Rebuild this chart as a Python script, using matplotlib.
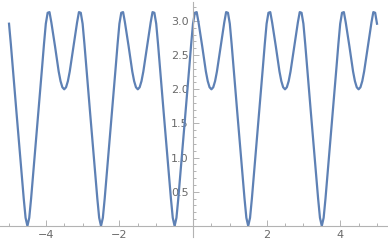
import numpy as np
import matplotlib.pyplot as plt

# x sampled every 0.05 from -5 to 5
x = np.linspace(-5, 5, 201)

# y values (one list per segment)
y_start = [2.96, 2.66, 2.33, 2.00, 1.68, 1.36, 1.04, 0.72, 0.40, 0.12, 0.00]
y_seg1 = [0.12, 0.40, 0.72, 1.04, 1.36, 1.68, 2.00, 2.33, 2.66, 2.96,
          3.12, 3.13, 2.98, 2.81, 2.63, 2.44, 2.26, 2.12, 2.03, 2.00]
y_seg2 = [2.03, 2.12, 2.26, 2.44, 2.63, 2.81, 2.98, 3.13, 3.12, 2.96,
          2.66, 2.33, 2.00, 1.68, 1.36, 1.04, 0.72, 0.40, 0.12, 0.00]
y_seg3 = [0.12, 0.40, 0.72, 1.04, 1.36, 1.68, 2.00, 2.33, 2.66, 2.96,
          3.12, 3.13, 2.98, 2.81, 2.63, 2.44, 2.26, 2.12, 2.03, 2.00]
y_seg4 = [2.03, 2.12, 2.26, 2.44, 2.63, 2.81, 2.98, 3.13, 3.12, 2.96,
          2.66, 2.33, 2.00, 1.68, 1.36, 1.04, 0.72, 0.40, 0.12, 0.00]
y_seg5 = [0.12, 0.40, 0.72, 1.04, 1.36, 1.68, 2.00, 2.33, 2.66, 2.96,
          3.12, 3.13, 2.98, 2.81, 2.63, 2.44, 2.26, 2.12, 2.03, 2.00]
y_seg6 = [2.03, 2.12, 2.26, 2.44, 2.63, 2.81, 2.98, 3.13, 3.12, 2.96,
          2.66, 2.33, 2.00, 1.68, 1.36, 1.04, 0.72, 0.40, 0.12, 0.00]
y_seg7 = [0.12, 0.40, 0.72, 1.04, 1.36, 1.68, 2.00, 2.33, 2.66, 2.96,
          3.12, 3.13, 2.98, 2.81, 2.63, 2.44, 2.26, 2.12, 2.03, 2.00]
y_seg8 = [2.03, 2.12, 2.26, 2.44, 2.63, 2.81, 2.98, 3.13, 3.12, 2.96,
          2.66, 2.33, 2.00, 1.68, 1.36, 1.04, 0.72, 0.40, 0.12, 0.00]
y_seg9 = [0.12, 0.40, 0.72, 1.04, 1.36, 1.68, 2.00, 2.33, 2.66, 2.96,
          3.12, 3.13, 2.98, 2.81, 2.63, 2.44, 2.26, 2.12, 2.03, 2.00]
y_end = [2.03, 2.12, 2.26, 2.44, 2.63, 2.81, 2.98, 3.13, 3.12, 2.96]

y = np.array(y_start + y_seg1 + y_seg2 + y_seg3 + y_seg4 + y_seg5
             + y_seg6 + y_seg7 + y_seg8 + y_seg9 + y_end)

x_major = [-4, -2, 2, 4]
x_labels = ["\u22124", "\u22122", "2", "4"]
x_minor = [-5, -4.5, -3.5, -3, -2.5, -1.5, -1, -0.5,
           0.5, 1, 1.5, 2.5, 3, 3.5, 4.5, 5]
y_major = [0.5, 1.0, 1.5, 2.0, 2.5, 3.0]
y_labels = ["0.5", "1.0", "1.5", "2.0", "2.5", "3.0"]
y_minor = [v / 10 for v in range(1, 33) if v % 5 != 0]

axis_col = "#b3b3b3"
label_col = "#6a6a6a"

fig = plt.figure(figsize=(3.88, 2.46), dpi=100)
ax = fig.add_axes([0, 0, 1, 1])

ax.plot(x, y, color="#5e81b5", lw=1.6, solid_joinstyle="round")

ax.set_xlim(-5.245, 5.299)
ax.set_ylim(-0.293, 3.307)

for s in ["top", "right"]:
    ax.spines[s].set_visible(False)
ax.spines["left"].set_position(("data", 0))
ax.spines["bottom"].set_position(("data", 0))
ax.spines["left"].set_bounds(-0.16, 3.28)
for s in ["left", "bottom"]:
    ax.spines[s].set_color(axis_col)
    ax.spines[s].set_linewidth(0.8)

ax.set_xticks(x_major)
ax.set_xticklabels(x_labels)
ax.set_xticks(x_minor, minor=True)
ax.set_yticks(y_major)
ax.set_yticklabels(y_labels)
ax.set_yticks(y_minor, minor=True)

ax.tick_params(axis="both", which="both", direction="in", colors=axis_col,
               labelcolor=label_col, labelsize=8, width=0.7)
ax.tick_params(axis="both", which="major", length=4, pad=3)
ax.tick_params(axis="both", which="minor", length=2.2)

fig.savefig("out.png", dpi=100)
